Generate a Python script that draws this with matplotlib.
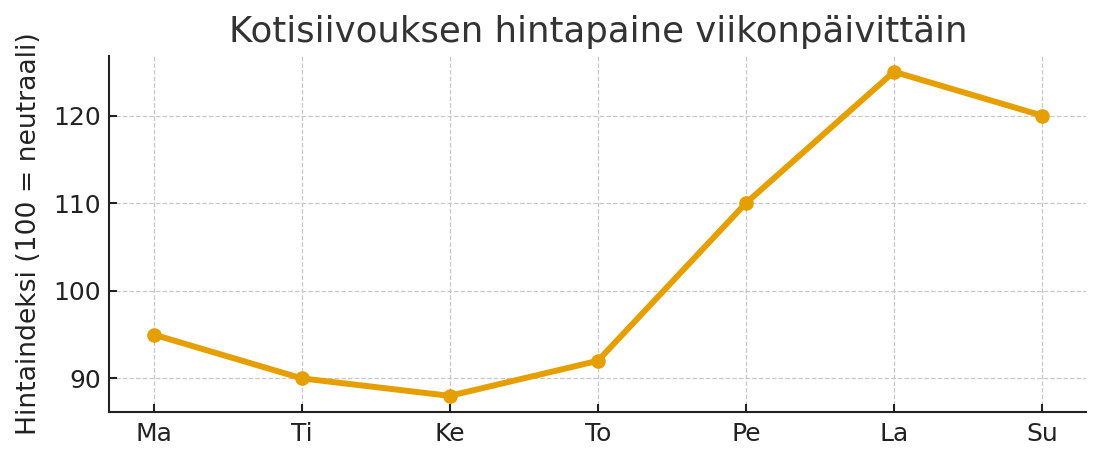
import matplotlib
matplotlib.use("Agg")
import matplotlib.pyplot as plt

days = ["Ma", "Ti", "Ke", "To", "Pe", "La", "Su"]
index_values = [95, 90, 88, 92, 110, 125, 120]
yticks = [90, 100, 110, 120]

title = "Kotisiivouksen hintapaine viikonpäivittäin"
ylabel = "Hintaindeksi (100 = neutraali)"

plt.rcParams['font.family'] = ['DejaVu Sans']
fig, ax = plt.subplots(figsize=(11.03, 4.63), dpi=100)
x = list(range(len(days)))
ax.plot(x, index_values, color="#E69F00", linewidth=4.3, marker="o", markersize=9.5)
ax.set_xticks(x)
ax.set_xticklabels(days)
ax.set_yticks(yticks)
ax.set_title(title, fontsize=25.6, color="#333333", pad=10)
ax.set_ylabel(ylabel, fontsize=19.2, color="#222222", labelpad=8)
ax.grid(True, linestyle="--", color="#c8c8c8", linewidth=0.9)
ax.set_axisbelow(True)
for s in ["top", "right"]:
    ax.spines[s].set_visible(False)
for s in ["left", "bottom"]:
    ax.spines[s].set_linewidth(1.5)
    ax.spines[s].set_color("#222222")
ax.tick_params(axis="both", direction="in", length=6, width=1.5, labelsize=18, colors="#222222")
ax.tick_params(axis="x", pad=7)
ax.tick_params(axis="y", pad=6)
fig.subplots_adjust(left=0.099, right=0.985, bottom=0.11, top=0.88)
fig.savefig("out.png", dpi=100)
